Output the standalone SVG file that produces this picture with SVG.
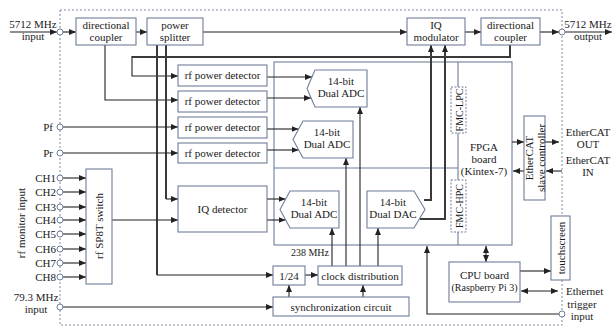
<svg xmlns="http://www.w3.org/2000/svg" width="614" height="327" viewBox="0 0 614 327">
<style>
text{font-family:"Liberation Serif","Times New Roman",serif;font-size:11px;fill:#1a1a1a}
.m{text-anchor:middle}
.e{text-anchor:end}
.s10{font-size:10px}
.box{fill:#fff;stroke:#6f7e9b;stroke-width:1.1}
.pl{fill:none;stroke:#6f7e9b;stroke-width:1.1}
.dbox{fill:#fff;stroke:#6f7e9b;stroke-width:1;stroke-dasharray:2,1.5}
.border{fill:none;stroke:#7d8ba5;stroke-width:1;stroke-dasharray:2,2}
.port{fill:#fff;stroke:#6f7e9b;stroke-width:1}
.c{fill:none;stroke:#222;stroke-width:1.1}
.t{fill:none;stroke:#3a3a3a;stroke-width:2}
.a{marker-end:url(#ah)}
.b{marker-start:url(#ahs);marker-end:url(#ah)}
</style>
<defs>
<marker id="ah" markerUnits="userSpaceOnUse" markerWidth="8" markerHeight="7" refX="7" refY="3" orient="auto"><path d="M0,0 L7,3 L0,6 z" fill="#222"/></marker>
<marker id="ahs" markerUnits="userSpaceOnUse" markerWidth="8" markerHeight="7" refX="0" refY="3" orient="auto"><path d="M7,0 L0,3 L7,6 z" fill="#222"/></marker>
</defs>
<rect width="614" height="327" fill="#fff"/>
<rect class="border" x="60" y="10" width="502" height="315"/>

<g id="fpga">
<rect class="pl" x="274" y="62" width="238" height="183"/>
<line class="pl" x1="274" y1="168" x2="458" y2="168"/>
<line class="pl" x1="458" y1="62" x2="458" y2="87"/>
<line class="pl" x1="458" y1="133" x2="458" y2="180"/>
<line class="pl" x1="458" y1="232" x2="458" y2="245"/>
<text class="m" x="484" y="151">FPGA</text>
<text class="m" x="484" y="163">board</text>
<text class="m" x="484" y="175">(Kintex-7)</text>
</g>
<g id="fmc-lpc"><rect class="dbox" x="451" y="87" width="15" height="46"/><text class="m s10" transform="translate(462.5,110) rotate(-90)">FMC-LPC</text></g>
<g id="fmc-hpc"><rect class="dbox" x="451" y="180" width="15" height="52"/><text class="m s10" transform="translate(462.5,206) rotate(-90)">FMC-HPC</text></g>

<g id="connectors">
<path class="c a" d="M10,32 H57"/>
<path class="c a" d="M63,32 H76"/>
<path class="c a" d="M136,32 H147"/>
<path class="c a" d="M203,32 H407"/>
<path class="c a" d="M465,32 H481"/>
<path class="c a" d="M540,32 H559"/>
<path class="c a" d="M565,32 H612"/>
<path class="t" d="M510,45 V57 H132"/>
<path class="c a" d="M132,56 V76 H178"/>
<path class="c a" d="M105,45 V100 H178"/>
<path class="t" d="M157,45 V275"/>
<path class="t" d="M166,45 V199"/>
<path class="c a" d="M157,275 H273"/>
<path class="c a" d="M166,199 H178"/>
<path class="c a" d="M63,127 H178"/>
<path class="c a" d="M63,153 H178"/>
<path class="c a" d="M63,178 H86"/>
<path class="c a" d="M63,192 H86"/>
<path class="c a" d="M63,207 H86"/>
<path class="c a" d="M63,220 H86"/>
<path class="c a" d="M63,234 H86"/>
<path class="c a" d="M63,249 H86"/>
<path class="c a" d="M63,263 H86"/>
<path class="c a" d="M63,277 H86"/>
<path class="c a" d="M112,220 H178"/>
<path class="c a" d="M267,77 H312"/>
<path class="c a" d="M267,98 H311"/>
<path class="c a" d="M267,129 H298.5"/>
<path class="c a" d="M267,150 H298.5"/>
<path class="c a" d="M267,199 H285.5"/>
<path class="c a" d="M267,220 H285.5"/>
<path class="c a" d="M305,275 H318"/>
<path class="c a" d="M289,297 V285"/>
<path class="c a" d="M363,297 V285"/>
<path class="c a" d="M332,266 V228"/>
<path class="c a" d="M346,266 V158"/>
<path class="c a" d="M360,266 V107"/>
<path class="c a" d="M378,266 V228"/>
<path class="c a" d="M63,307 H273"/>
<path class="t" d="M424,200 H431 V46"/>
<path class="t" d="M420,219 H445 V46"/>
<path class="c a" d="M431,52 V45"/>
<path class="c a" d="M445,52 V45"/>
<path class="c a" d="M512,142 H524"/>
<path class="c a" d="M545,142 H559"/>
<path class="c a" d="M562,171 H546"/>
<path class="c a" d="M524,171 H513"/>
<path class="c b" d="M486,246 V262"/>
<path class="c a" d="M520,271 H551"/>
<path class="c b" d="M521,291 H558"/>
<path class="c a" d="M559,314 H427 V246"/>
</g>

<g id="ports">
<circle class="port" cx="60" cy="32" r="3"/>
<circle class="port" cx="562" cy="32" r="3"/>
<circle class="port" cx="60" cy="127" r="3"/>
<circle class="port" cx="60" cy="153" r="3"/>
<circle class="port" cx="60" cy="178" r="3"/>
<circle class="port" cx="60" cy="192" r="3"/>
<circle class="port" cx="60" cy="207" r="3"/>
<circle class="port" cx="60" cy="220" r="3"/>
<circle class="port" cx="60" cy="234" r="3"/>
<circle class="port" cx="60" cy="249" r="3"/>
<circle class="port" cx="60" cy="263" r="3"/>
<circle class="port" cx="60" cy="277" r="3"/>
<circle class="port" cx="60" cy="307" r="3"/>
<circle class="port" cx="562" cy="314" r="3"/>
</g>

<g id="labels">
<text class="m" x="33" y="28">5712 MHz</text>
<text class="m" x="33" y="40">input</text>
<text class="m" x="588" y="28">5712 MHz</text>
<text class="m" x="588" y="40">output</text>
<text class="e" x="53" y="131">Pf</text>
<text class="e" x="53" y="157">Pr</text>
<text class="e" x="56" y="182">CH1</text>
<text class="e" x="56" y="196">CH2</text>
<text class="e" x="56" y="211">CH3</text>
<text class="e" x="56" y="224">CH4</text>
<text class="e" x="56" y="238">CH5</text>
<text class="e" x="56" y="253">CH6</text>
<text class="e" x="56" y="267">CH7</text>
<text class="e" x="56" y="281">CH8</text>
<text class="m" transform="translate(25,223) rotate(-90)">rf monitor input</text>
<text class="m" x="36" y="301">79.3 MHz</text>
<text class="m" x="36" y="313">input</text>
<text class="m" x="588" y="136">EtherCAT</text>
<text class="m" x="588" y="148">OUT</text>
<text class="m" x="588" y="164">EtherCAT</text>
<text class="m" x="588" y="176">IN</text>
<text x="566" y="295">Ethernet</text>
<text class="m" x="582" y="308">trigger</text>
<text class="m" x="582" y="320">input</text>
<text class="m s10" x="310" y="256">238 MHz</text>
</g>

<g id="dc1"><rect class="box" x="76" y="18" width="60" height="27"/><text class="m" x="106" y="28.5">directional</text><text class="m" x="106" y="40.5">coupler</text></g>
<g id="splitter"><rect class="box" x="147" y="18" width="56" height="27"/><text class="m" x="175" y="28.5">power</text><text class="m" x="175" y="40.5">splitter</text></g>
<g id="iqmod"><rect class="box" x="407" y="18" width="58" height="27"/><text class="m" x="436" y="28.5">IQ</text><text class="m" x="436" y="40.5">modulator</text></g>
<g id="dc2"><rect class="box" x="481" y="18" width="59" height="27"/><text class="m" x="510.5" y="28.5">directional</text><text class="m" x="510.5" y="40.5">coupler</text></g>
<g id="pd1"><rect class="box" x="178" y="65" width="89" height="21"/><text class="m" x="222.5" y="79">rf power detector</text></g>
<g id="pd2"><rect class="box" x="178" y="91" width="89" height="21"/><text class="m" x="222.5" y="105">rf power detector</text></g>
<g id="pd3"><rect class="box" x="178" y="117" width="89" height="21"/><text class="m" x="222.5" y="131">rf power detector</text></g>
<g id="pd4"><rect class="box" x="178" y="143" width="89" height="20"/><text class="m" x="222.5" y="156.5">rf power detector</text></g>
<g id="adc1"><polygon class="box" points="315,70 367,70 367,107 315,107 307,88.5"/><text class="m" x="341" y="85">14-bit</text><text class="m" x="341" y="97">Dual ADC</text></g>
<g id="adc2"><polygon class="box" points="303,121 353,121 353,158 303,158 293,139.5"/><text class="m" x="327" y="136">14-bit</text><text class="m" x="327" y="148">Dual ADC</text></g>
<g id="adc3"><polygon class="box" points="290,191 339,191 339,228 290,228 280,209.5"/><text class="m" x="314" y="206">14-bit</text><text class="m" x="314" y="218">Dual ADC</text></g>
<g id="dac"><polygon class="box" points="367,191 414,191 425,209.5 414,228 367,228"/><text class="m" x="393" y="206">14-bit</text><text class="m" x="393" y="218">Dual DAC</text></g>
<g id="switch"><rect class="box" x="86" y="169" width="26" height="115"/><text class="m" transform="translate(99,226) rotate(-90)" y="4">rf SP8T switch</text></g>
<g id="iqdet"><rect class="box" x="178" y="186" width="89" height="46"/><text class="m" x="222.5" y="213">IQ detector</text></g>
<g id="div"><rect class="box" x="273" y="266" width="32" height="19"/><text class="m" x="289" y="279.5">1/24</text></g>
<g id="clock"><rect class="box" x="318" y="266" width="84" height="19"/><text class="m" x="360" y="279.5">clock distribution</text></g>
<g id="sync"><rect class="box" x="273" y="297" width="136" height="19"/><text class="m" x="341" y="310.5">synchronization circuit</text></g>
<g id="ethercat"><rect class="box" x="524" y="116" width="21" height="84"/><text class="m" transform="translate(534.5,158) rotate(-90)" y="-2">EtherCAT</text><text class="m" transform="translate(534.5,158) rotate(-90)" y="10">slave controller</text></g>
<g id="touch"><rect class="box" x="551" y="216" width="19" height="64"/><text class="m" transform="translate(560.5,248) rotate(-90)" y="4">touchscreen</text></g>
<g id="cpu"><rect class="box" x="449" y="262" width="71" height="40"/><text class="m" x="484.5" y="279">CPU board</text><text class="m s10" x="484.5" y="291">(Raspberry Pi 3)</text></g>
</svg>
